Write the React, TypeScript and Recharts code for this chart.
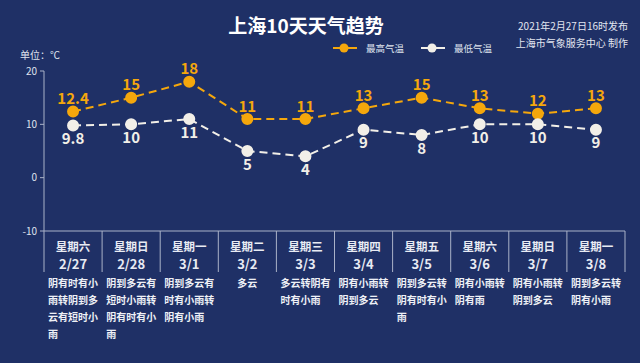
import React from 'react';
import { LineChart, Line, XAxis, YAxis, LabelList } from 'recharts';

const days = ['星期六', '星期日', '星期一', '星期二', '星期三', '星期四', '星期五', '星期六', '星期日', '星期一'];
const dates = ['2/27', '2/28', '3/1', '3/2', '3/3', '3/4', '3/5', '3/6', '3/7', '3/8'];
const highTemps = [12.4, 15, 18, 11, 11, 13, 15, 13, 12, 13];
const lowTemps = [9.8, 10, 11, 5, 4, 9, 8, 10, 10, 9];
const weather = [
  '阴有时有小雨转阴到多云有短时小雨',
  '阴到多云有短时小雨转阴有时有小雨',
  '阴到多云有时有小雨转阴有小雨',
  '多云',
  '多云转阴有时有小雨',
  '阴有小雨转阴到多云',
  '阴到多云转阴有时有小雨',
  '阴有小雨转阴有雨',
  '阴有小雨转阴到多云',
  '阴到多云转阴有小雨',
];
const yTicks = [-10, 0, 10, 20];

const data = dates.map((d, i) => ({
  date: d,
  day: days[i],
  weather: weather[i],
  high: highTemps[i],
  low: lowTemps[i],
}));

const BG = '#1f3066';
const ORANGE = '#f5a70c';
const WHITE = '#f2efe8';
const AXIS = '#aab2c8';
const FONT = '"Noto Sans CJK SC", "Noto Sans", sans-serif';

const W = 640;
const H = 363;
const LEFT = 44;
const RIGHT = 15;
const BAND = (W - LEFT - RIGHT) / dates.length;

// split the weather text into rows of n characters
const chunk = (s: string, n: number) => {
  const out: string[] = [];
  for (let i = 0; i < s.length; i += n) out.push(s.slice(i, i + n));
  return out;
};

const DateTick = (props: any) => {
  const { x, y, payload, index } = props;
  const idx = payload?.index ?? index ?? 0;
  const item = data[idx] || data[0];
  const lines = chunk(item.weather, 5);
  const fs = 10;
  const blockW = Math.max(...lines.map((l) => l.length)) * fs;
  const left = x - blockW / 2;
  const last = idx === dates.length - 1;
  return (
    <g>
      <line x1={x - BAND / 2} y1={y} x2={x - BAND / 2} y2={y + 41} stroke={AXIS} strokeWidth={1} />
      {last && <line x1={x + BAND / 2} y1={y} x2={x + BAND / 2} y2={y + 41} stroke={AXIS} strokeWidth={1} />}
      <text x={x} y={y + 20} textAnchor="middle" fill="#e8ebf3" fontSize={11.5} fontWeight="bold" fontFamily={FONT}>
        {item.day}
      </text>
      <text x={x} y={y + 38} textAnchor="middle" fill="#e8ebf3" fontSize={13} fontWeight="bold" fontFamily={FONT}>
        {item.date}
      </text>
      {lines.map((l, i) => (
        <text key={i} x={left} y={y + 56 + i * 17} textAnchor="start" fill="#eef0f6" fontSize={fs} fontWeight="bold" fontFamily={FONT}>
          {l}
        </text>
      ))}
    </g>
  );
};

const HighLabel = (props: any) => {
  const { x, y, value } = props;
  return (
    <text x={x} y={y - 7.5} textAnchor="middle" fill={ORANGE} fontSize={15} fontWeight="bold" fontFamily={FONT}>
      {value}
    </text>
  );
};

const LowLabel = (props: any) => {
  const { x, y, value } = props;
  return (
    <text x={x} y={y + 18.5} textAnchor="middle" fill={WHITE} fontSize={15} fontWeight="bold" fontFamily={FONT}>
      {value}
    </text>
  );
};

const LegendBox = () => (
  <svg width={170} height={16} style={{ position: 'absolute', left: 331, top: 40 }}>
    <line x1={2} y1={8} x2={26} y2={8} stroke={ORANGE} strokeWidth={2} />
    <circle cx={13} cy={8} r={4.5} fill={ORANGE} />
    <text x={35} y={12} fill="#dfe3ee" fontSize={9.5} fontFamily={FONT}>最高气温</text>
    <line x1={90} y1={8} x2={114} y2={8} stroke={WHITE} strokeWidth={2} />
    <circle cx={101} cy={8} r={4.5} fill={WHITE} />
    <text x={123} y={12} fill="#dfe3ee" fontSize={9.5} fontFamily={FONT}>最低气温</text>
  </svg>
);

export default function App() {
  return (
    <div style={{ position: 'absolute', left: 0, top: 0, width: W, height: H, background: BG, overflow: 'hidden', fontFamily: FONT }}>
      <div style={{ position: 'absolute', left: 226, top: 12, width: 160, textAlign: 'center', color: '#fff', fontSize: 19, fontWeight: 'bold', lineHeight: '26px' }}>
        上海10天天气趋势
      </div>
      <div style={{ position: 'absolute', right: 12, top: 17, textAlign: 'right', color: '#e2e6f0', fontSize: 10, lineHeight: '17px' }}>
        <div>2021年2月27日16时发布</div>
        <div>上海市气象服务中心 制作</div>
      </div>
      <div style={{ position: 'absolute', left: 20, top: 47, color: '#dfe3ee', fontSize: 10 }}>单位：℃</div>
      <LegendBox />
      <div style={{ position: 'absolute', left: 0, top: 0 }}>
        <LineChart width={W} height={H} data={data} margin={{ top: 71, right: RIGHT, left: 0, bottom: 0 }}>
          <XAxis
            dataKey="date"
            interval={0}
            height={H - 231}
            padding={{ left: BAND / 2, right: BAND / 2 }}
            tickLine={false}
            tickSize={0}
            tickMargin={0}
            axisLine={{ stroke: AXIS }}
            tick={<DateTick />}
          />
          <YAxis
            width={LEFT}
            domain={[-10, 20]}
            ticks={yTicks}
            allowDataOverflow
            tickSize={4}
            tickMargin={3}
            axisLine={{ stroke: AXIS }}
            tickLine={{ stroke: AXIS }}
            tick={{ fill: '#dfe3ee', fontSize: 10, fontFamily: FONT }}
          />
          <Line
            dataKey="high"
            stroke={ORANGE}
            strokeWidth={2}
            strokeDasharray="8 5"
            dot={{ r: 5, fill: ORANGE, stroke: ORANGE, strokeDasharray: '' }}
            isAnimationActive={false}
          >
            <LabelList dataKey="high" content={<HighLabel />} />
          </Line>
          <Line
            dataKey="low"
            stroke={WHITE}
            strokeWidth={2}
            strokeDasharray="8 5"
            dot={{ r: 5, fill: WHITE, stroke: WHITE, strokeDasharray: '' }}
            isAnimationActive={false}
          >
            <LabelList dataKey="low" content={<LowLabel />} />
          </Line>
        </LineChart>
      </div>
    </div>
  );
}
